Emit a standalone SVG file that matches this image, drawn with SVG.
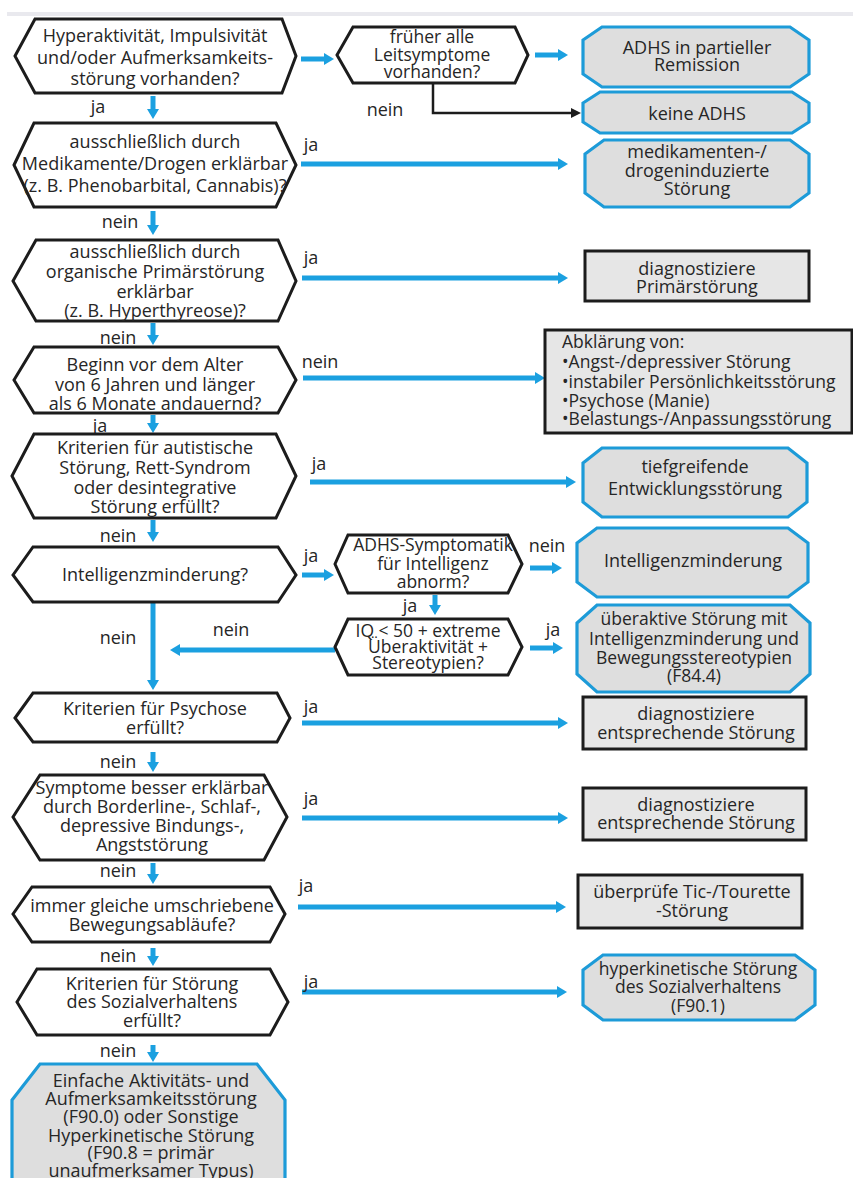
<svg xmlns="http://www.w3.org/2000/svg" width="853" height="1178" viewBox="0 0 853 1178">
  <style>
    .hex { fill: #ffffff; stroke: #1c1c1c; stroke-width: 3; stroke-linejoin: miter; }
    .oct { fill: #dedede; stroke: #1d9bd8; stroke-width: 3.2; }
    .box { fill: #e6e6e6; stroke: #1c1c1c; stroke-width: 3; }
    .t { font-family: "Open Sans", "Liberation Sans", sans-serif; font-size: 18px; fill: #262626; text-anchor: middle; }
    .s { font-size: 17.5px; }
    .tl { text-anchor: start; font-size: 17.5px; }
    .lbl { font-family: "Open Sans", "Liberation Sans", sans-serif; font-size: 18px; fill: #262626; text-anchor: middle; }
    .flow { stroke: #1ba0e0; stroke-width: 5; fill: none; marker-end: url(#ab); }
    .no { stroke: #1c1c1c; stroke-width: 2.5; fill: none; marker-end: url(#abk); }
  </style>
  <defs>
    <marker id="ab" markerUnits="userSpaceOnUse" markerWidth="12" markerHeight="14" refX="4" refY="7" orient="auto">
      <path d="M0,1 L10,7 L0,13 z" fill="#1ba0e0"/>
    </marker>
    <marker id="abk" markerUnits="userSpaceOnUse" markerWidth="12" markerHeight="12" refX="3" refY="6" orient="auto">
      <path d="M0,1 L10,6 L0,11 z" fill="#1c1c1c"/>
    </marker>
  </defs>

  <rect x="7" y="12" width="846" height="4" fill="#e9e9ee"/>

  <!-- connectors -->
  <g id="connectors">
    <line class="flow" x1="301" y1="59" x2="328" y2="59"/>
    <line class="flow" x1="535" y1="55" x2="562" y2="55"/>
    <path class="no" d="M433,84 V113 H574"/>
    <line class="flow" x1="153" y1="96" x2="153" y2="113"/>
    <line class="flow" x1="301" y1="164" x2="562" y2="164"/>
    <line class="flow" x1="153" y1="211" x2="153" y2="229"/>
    <line class="flow" x1="302" y1="278" x2="562" y2="278"/>
    <line class="flow" x1="153" y1="323" x2="153" y2="339"/>
    <line class="flow" x1="303" y1="378" x2="539" y2="378"/>
    <line class="flow" x1="153" y1="415" x2="153" y2="427"/>
    <line class="flow" x1="310" y1="482" x2="570" y2="482"/>
    <line class="flow" x1="153" y1="520" x2="153" y2="536"/>
    <line class="flow" x1="302" y1="575" x2="328" y2="575"/>
    <line class="flow" x1="530" y1="568" x2="556" y2="568"/>
    <line class="flow" x1="435" y1="595" x2="435" y2="609"/>
    <line class="flow" x1="530" y1="648" x2="557" y2="648"/>
    <line class="flow" x1="335" y1="650" x2="176" y2="650"/>
    <line class="flow" x1="153" y1="602" x2="153" y2="684"/>
    <line class="flow" x1="302" y1="723" x2="562" y2="723"/>
    <line class="flow" x1="153" y1="752" x2="153" y2="766"/>
    <line class="flow" x1="302" y1="818" x2="562" y2="818"/>
    <line class="flow" x1="153" y1="863" x2="153" y2="878"/>
    <line class="flow" x1="298" y1="907" x2="560" y2="907"/>
    <line class="flow" x1="153" y1="948" x2="153" y2="960"/>
    <line class="flow" x1="302" y1="992" x2="561" y2="992"/>
    <line class="flow" x1="153" y1="1045" x2="153" y2="1056"/>

    <text class="lbl" x="98" y="113">ja</text>
    <text class="lbl" x="385" y="116">nein</text>
    <text class="lbl" x="311" y="151">ja</text>
    <text class="lbl" x="120" y="228">nein</text>
    <text class="lbl" x="311" y="264">ja</text>
    <text class="lbl" x="118" y="344">nein</text>
    <text class="lbl" x="320" y="368">nein</text>
    <text class="lbl" x="100" y="432">ja</text>
    <text class="lbl" x="319" y="470">ja</text>
    <text class="lbl" x="118" y="542">nein</text>
    <text class="lbl" x="311" y="562">ja</text>
    <text class="lbl" x="547" y="552">nein</text>
    <text class="lbl" x="410" y="612">ja</text>
    <text class="lbl" x="118" y="644">nein</text>
    <text class="lbl" x="231" y="636">nein</text>
    <text class="lbl" x="553" y="636">ja</text>
    <text class="lbl" x="311" y="713">ja</text>
    <text class="lbl" x="118" y="768">nein</text>
    <text class="lbl" x="311" y="805">ja</text>
    <text class="lbl" x="118" y="877">nein</text>
    <text class="lbl" x="306" y="892">ja</text>
    <text class="lbl" x="118" y="962">nein</text>
    <text class="lbl" x="311" y="988">ja</text>
    <text class="lbl" x="118" y="1057">nein</text>
  </g>

  <!-- decision nodes -->
  <g id="q-symptome">
    <polygon class="hex" points="15,56 35,19 282,19 296,56 282,93 35,93"/>
    <text class="t" x="155" y="42">Hyperaktivität, Impulsivität</text>
    <text class="t" x="155" y="64">und/oder Aufmerksamkeits-</text>
    <text class="t" x="155" y="85">störung vorhanden?</text>
  </g>
  <g id="q-frueher">
    <polygon class="hex" points="337,55 353,27 515,27 528,55 515,83 353,83"/>
    <text class="t s" x="432" y="43">früher alle</text>
    <text class="t s" x="432" y="61">Leitsymptome</text>
    <text class="t s" x="432" y="78">vorhanden?</text>
  </g>
  <g id="q-medikamente">
    <polygon class="hex" points="14,165 34,123 276,123 296,165 276,207 34,207"/>
    <text class="t" x="155" y="148">ausschließlich durch</text>
    <text class="t" x="155" y="170">Medikamente/Drogen erklärbar</text>
    <text class="t" x="155" y="192">(z. B. Phenobarbital, Cannabis)?</text>
  </g>
  <g id="q-organisch">
    <polygon class="hex" points="13,281 36,240 278,240 296,281 278,321 36,321"/>
    <text class="t" x="155" y="258">ausschließlich durch</text>
    <text class="t" x="155" y="278">organische Primärstörung</text>
    <text class="t" x="155" y="298">erklärbar</text>
    <text class="t" x="155" y="317">(z. B. Hyperthyreose)?</text>
  </g>
  <g id="q-beginn">
    <polygon class="hex" points="14,380 34,347 278,347 296,380 278,413 34,413"/>
    <text class="t" x="155" y="371">Beginn vor dem Alter</text>
    <text class="t" x="155" y="391">von 6 Jahren und länger</text>
    <text class="t" x="155" y="410">als 6 Monate andauernd?</text>
  </g>
  <g id="q-autistisch">
    <polygon class="hex" points="12,476 34,434 276,434 296,476 276,518 34,518"/>
    <text class="t" x="155" y="454">Kriterien für autistische</text>
    <text class="t" x="155" y="474">Störung, Rett-Syndrom</text>
    <text class="t" x="155" y="494">oder desintegrative</text>
    <text class="t" x="155" y="513">Störung erfüllt?</text>
  </g>
  <g id="q-intelligenz">
    <polygon class="hex" points="13,575 33,547 278,547 296,575 278,602 33,602"/>
    <text class="t" x="155" y="581">Intelligenzminderung?</text>
  </g>
  <g id="q-abnorm">
    <polygon class="hex" points="335,564 348,535 508,535 522,564 508,593 348,593"/>
    <text class="t s" x="433" y="551">ADHS-Symptomatik</text>
    <text class="t s" x="433" y="570">für Intelligenz</text>
    <text class="t s" x="433" y="588">abnorm?</text>
  </g>
  <g id="q-iq">
    <polygon class="hex" points="335,647 348,619 508,619 522,647 508,675 348,675"/>
    <text class="t s" x="428" y="637">IQ &lt; 50 + extreme</text>
    <text class="t s" x="428" y="653">Überaktivität +</text>
    <text class="t s" x="428" y="669">Stereotypien?</text>
  </g>
  <g id="q-psychose">
    <polygon class="hex" points="15,718 33,693 277,693 290,718 277,742 33,742"/>
    <text class="t" x="155" y="715">Kriterien für Psychose</text>
    <text class="t" x="155" y="734">erfüllt?</text>
  </g>
  <g id="q-borderline">
    <polygon class="hex" points="13,817 40,775 264,775 287,817 264,860 40,860"/>
    <text class="t" x="152" y="794">Symptome besser erklärbar</text>
    <text class="t" x="152" y="813">durch Borderline-, Schlaf-,</text>
    <text class="t" x="152" y="832">depressive Bindungs-,</text>
    <text class="t" x="152" y="851">Angststörung</text>
  </g>
  <g id="q-bewegung">
    <polygon class="hex" points="13,914 32,887 270,887 285,914 270,942 32,942"/>
    <text class="t" x="152" y="912">immer gleiche umschriebene</text>
    <text class="t" x="152" y="931">Bewegungsabläufe?</text>
  </g>
  <g id="q-sozial">
    <polygon class="hex" points="17,1002 37,969 270,969 288,1002 270,1035 37,1035"/>
    <text class="t" x="152" y="990">Kriterien für Störung</text>
    <text class="t" x="152" y="1008">des Sozialverhaltens</text>
    <text class="t" x="152" y="1027">erfüllt?</text>
  </g>

  <!-- outcome nodes -->
  <g id="r-remission">
    <polygon class="oct" points="602,27 790,27 809,40 809,74 790,87 602,87 583,74 583,40"/>
    <text class="t" x="697" y="54">ADHS in partieller</text>
    <text class="t" x="697" y="71">Remission</text>
  </g>
  <g id="r-keine">
    <polygon class="oct" points="600,92 792,92 809,103 809,122 792,133 600,133 583,122 583,103"/>
    <text class="t" x="697" y="120">keine ADHS</text>
  </g>
  <g id="r-drogen">
    <polygon class="oct" points="604,140 790,140 809,154 809,193 790,207 604,207 585,193 585,154"/>
    <text class="t" x="697" y="158">medikamenten-/</text>
    <text class="t" x="697" y="177">drogeninduzierte</text>
    <text class="t" x="697" y="195">Störung</text>
  </g>
  <g id="r-primaer">
    <rect class="box" x="585" y="251" width="224" height="50"/>
    <text class="t" x="697" y="275">diagnostiziere</text>
    <text class="t" x="697" y="293">Primärstörung</text>
  </g>
  <g id="r-abklaerung">
    <rect class="box" x="545" y="330" width="307" height="103"/>
    <text class="t tl" x="562" y="348">Abklärung von:</text>
    <text class="t tl" x="562" y="368">•Angst-/depressiver Störung</text>
    <text class="t tl" x="562" y="388">•instabiler Persönlichkeitsstörung</text>
    <text class="t tl" x="562" y="407">•Psychose (Manie)</text>
    <text class="t tl" x="562" y="425">•Belastungs-/Anpassungsstörung</text>
  </g>
  <g id="r-entwicklung">
    <polygon class="oct" points="602,448 788,448 807,463 807,502 788,517 602,517 583,502 583,463"/>
    <text class="t" x="695" y="473">tiefgreifende</text>
    <text class="t" x="695" y="495">Entwicklungsstörung</text>
  </g>
  <g id="r-intelligenz">
    <polygon class="oct" points="597,528 788,528 808,543 808,582 788,597 597,597 577,582 577,543"/>
    <text class="t" x="693" y="567">Intelligenzminderung</text>
  </g>
  <g id="r-ueberaktiv">
    <polygon class="oct" points="597,605 790,605 810,623 810,674 790,692 597,692 577,674 577,623"/>
    <text class="t s" x="694" y="625">überaktive Störung mit</text>
    <text class="t s" x="694" y="645">Intelligenzminderung und</text>
    <text class="t s" x="694" y="664">Bewegungsstereotypien</text>
    <text class="t s" x="694" y="682">(F84.4)</text>
  </g>
  <g id="r-psychose">
    <rect class="box" x="583" y="697" width="223" height="52"/>
    <text class="t" x="696" y="720">diagnostiziere</text>
    <text class="t" x="696" y="739">entsprechende Störung</text>
  </g>
  <g id="r-borderline">
    <rect class="box" x="583" y="788" width="223" height="52"/>
    <text class="t" x="696" y="811">diagnostiziere</text>
    <text class="t" x="696" y="829">entsprechende Störung</text>
  </g>
  <g id="r-tic">
    <rect class="box" x="578" y="875" width="224" height="53"/>
    <text class="t" x="692" y="898">überprüfe Tic-/Tourette</text>
    <text class="t" x="692" y="917">-Störung</text>
  </g>
  <g id="r-sozial">
    <polygon class="oct" points="603,955 795,955 815,970 815,1005 795,1020 603,1020 583,1005 583,970"/>
    <text class="t s" x="698" y="975">hyperkinetische  Störung</text>
    <text class="t s" x="698" y="993">des Sozialverhaltens</text>
    <text class="t s" x="698" y="1012">(F90.1)</text>
  </g>
  <g id="r-einfach">
    <polygon class="oct" points="40,1064 257,1064 285,1100 285,1180 257,1216 40,1216 12,1180 12,1100"/>
    <text class="t" x="151" y="1087">Einfache Aktivitäts- und</text>
    <text class="t" x="151" y="1105">Aufmerksamkeitsstörung</text>
    <text class="t" x="151" y="1123">(F90.0) oder Sonstige</text>
    <text class="t" x="151" y="1142">Hyperkinetische Störung</text>
    <text class="t" x="151" y="1159">(F90.8 = primär</text>
    <text class="t" x="151" y="1177">unaufmerksamer Typus)</text>
  </g>
</svg>
